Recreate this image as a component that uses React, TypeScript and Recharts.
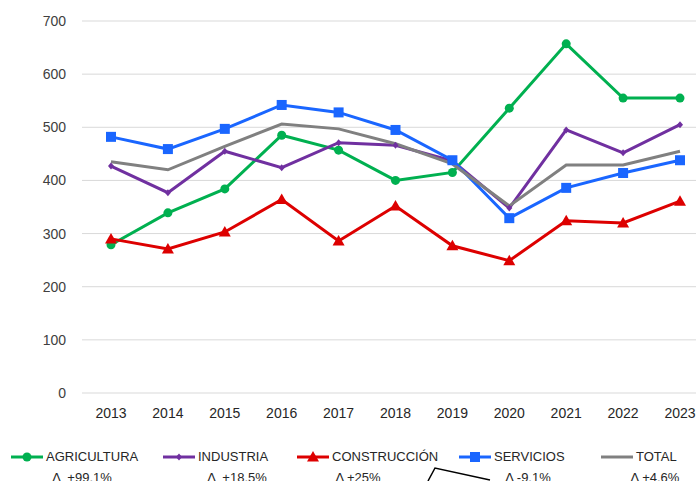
import { LineChart, Line, XAxis, YAxis, CartesianGrid } from 'recharts';

const years = ['2013', '2014', '2015', '2016', '2017', '2018', '2019', '2020', '2021', '2022', '2023'];
const agricultura = [279, 339, 384, 485, 457, 400, 415, 536, 657, 555, 555];
const industria = [427, 377, 455, 424, 471, 466, 437, 348, 495, 452, 505];
const construccion = [290, 271, 303, 364, 286, 352, 277, 249, 324, 320, 361];
const servicios = [482, 459, 497, 542, 528, 495, 438, 329, 386, 414, 438];
const total = [435, 420, 464, 506, 497, 469, 431, 352, 429, 429, 455];
const yTicks = [0, 100, 200, 300, 400, 500, 600, 700];

const names = ['AGRICULTURA', 'INDUSTRIA', 'CONSTRUCCIÓN', 'SERVICIOS', 'TOTAL'];
const deltas = ['Δ  +99.1%', 'Δ  +18.5%', 'Δ +25%', 'Δ -9.1%', 'Δ +4.6%'];

const series = [
  { key: 'agri', name: names[0], values: agricultura, color: '#00B050', marker: 'circle' },
  { key: 'ind', name: names[1], values: industria, color: '#7030A0', marker: 'diamond' },
  { key: 'cons', name: names[2], values: construccion, color: '#DD0000', marker: 'triangle' },
  { key: 'serv', name: names[3], values: servicios, color: '#1A66FF', marker: 'square' },
  { key: 'tot', name: names[4], values: total, color: '#808080', marker: 'none' },
];

const data = years.map((year, i) => {
  const row: Record<string, string | number> = { year };
  series.forEach((s) => (row[s.key] = s.values[i]));
  return row;
});

// legend slots, left edge of icon in page px
const legendX = [10, 162, 296, 458, 600];
const deltaX = [82, 237, 358, 528, 655];

function Marker({ type, cx, cy, color }: { type: string; cx: number; cy: number; color: string }) {
  if (type === 'circle') return <circle cx={cx} cy={cy} r={4.5} fill={color} />;
  if (type === 'diamond')
    return <polygon points={`${cx},${cy - 3.5} ${cx + 3},${cy} ${cx},${cy + 3.5} ${cx - 3},${cy}`} fill={color} />;
  if (type === 'triangle')
    return <polygon points={`${cx},${cy - 6} ${cx + 6},${cy + 4.5} ${cx - 6},${cy + 4.5}`} fill={color} />;
  if (type === 'square') return <rect x={cx - 5} y={cy - 5} width={10} height={10} fill={color} />;
  return null;
}

const makeDot = (type: string, color: string) => (props: any) => {
  const { cx, cy, index } = props;
  if (cx == null || cy == null) return <g key={index} />;
  return (
    <g key={index}>
      <Marker type={type} cx={cx} cy={cy} color={color} />
    </g>
  );
};

const font = '"Liberation Sans", Arial, sans-serif';

export default function App() {
  return (
    <div style={{ position: 'relative', width: 688, height: 473, overflow: 'hidden', fontFamily: font }}>
      <style>{`html{overflow:hidden} body{margin:8px 0 0 8px}`}</style>
      <LineChart width={701} height={420} data={data} margin={{ top: 13, right: 0, bottom: 5, left: 0 }}>
        <CartesianGrid vertical={false} stroke="#d9d9d9" strokeWidth={1} />
        <XAxis
          dataKey="year"
          axisLine={false}
          tickLine={false}
          padding={{ left: 29, right: 29 }}
          tick={{ fill: '#262626', fontSize: 14, fontFamily: font }}
          tickMargin={9}
          height={30}
        />
        <YAxis
          domain={[0, 700]}
          ticks={yTicks}
          axisLine={false}
          tickLine={false}
          width={74}
          tickMargin={10}
          tick={{ fill: '#404040', fontSize: 14, fontFamily: font }}
        />
        {series.map((s) => (
          <Line
            key={s.key}
            dataKey={s.key}
            name={s.name}
            stroke={s.color}
            strokeWidth={3}
            dot={s.marker === 'none' ? false : makeDot(s.marker, s.color)}
            activeDot={false}
            isAnimationActive={false}
          />
        ))}
      </LineChart>
      {series.map((s, i) => (
        <div
          key={s.key}
          style={{
            position: 'absolute',
            left: legendX[i] - 8,
            top: 441,
            display: 'flex',
            alignItems: 'center',
            fontSize: 13,
            color: '#262626',
            whiteSpace: 'nowrap',
          }}
        >
          <svg width={34} height={14}>
            <line x1={1} y1={7} x2={33} y2={7} stroke={s.color} strokeWidth={3} />
            <Marker type={s.marker} cx={17} cy={7} color={s.color} />
          </svg>
          <span style={{ marginLeft: 2 }}>{s.name}</span>
        </div>
      ))}
      {deltas.map((d, i) => (
        <div
          key={i}
          style={{
            position: 'absolute',
            left: deltaX[i] - 8 - 40,
            width: 80,
            top: 462,
            textAlign: 'center',
            fontSize: 13,
            color: '#262626',
            whiteSpace: 'pre',
          }}
        >
          {d}
        </div>
      ))}
      <svg style={{ position: 'absolute', left: 0, top: 0, pointerEvents: 'none' }} width={688} height={473}>
        <polyline points="420,473 427,460 482,472" fill="none" stroke="#000" strokeWidth={1.5} />
      </svg>
    </div>
  );
}
